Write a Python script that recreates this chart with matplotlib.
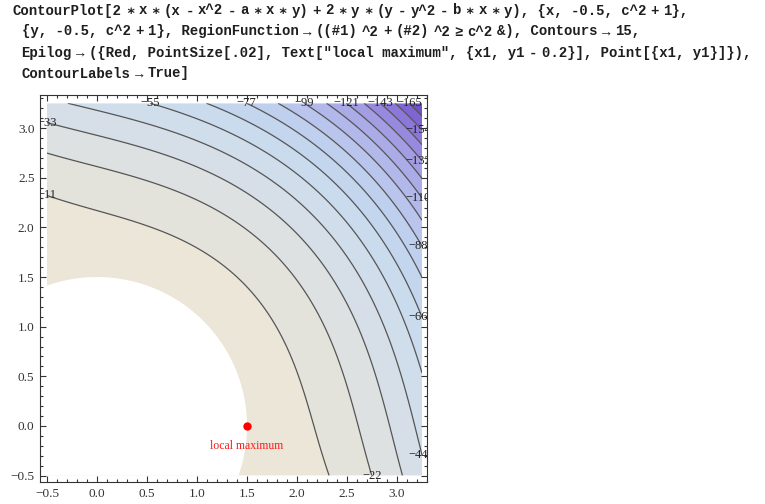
import numpy as np
import matplotlib
matplotlib.use("Agg")
import matplotlib.pyplot as plt
from matplotlib.path import Path
from matplotlib.patches import PathPatch
from matplotlib.colors import LinearSegmentedColormap
from matplotlib.ticker import MultipleLocator

# ---------------- data / parameters ----------------
a_coef = 0.59
b_coef = 0.59
c_param = 1.5
x_min = -0.5
x_max = c_param ** 2 + 1
x1, y1 = 1.5, 0.0
point_text = "local maximum"
point_text_dy = -0.2
contour_levels = [-165, -154, -143, -132, -121, -110, -99, -88, -77, -66, -55, -44, -33, -22, -11]
tick_values = [-0.5, 0.0, 0.5, 1.0, 1.5, 2.0, 2.5, 3.0]
tick_labels = ["\u22120.5", "0.0", "0.5", "1.0", "1.5", "2.0", "2.5", "3.0"]
code_lines = [
    'ContourPlot[2 \u2217 x \u2217 (x - x^2 - a \u2217 x \u2217 y) + 2 \u2217 y \u2217 (y - y^2 - b \u2217 x \u2217 y), {x, -0.5, c^2 + 1},',
    '{y, -0.5, c^2 + 1}, RegionFunction \u2192 ((#1) ^2 + (#2) ^2 \u2265 c^2 &), Contours \u2192 15,',
    'Epilog \u2192 ({Red, PointSize[.02], Text["local maximum", {x1, y1 - 0.2}], Point[{x1, y1}]}),',
    'ContourLabels \u2192 True]',
]
shade_stops = [(0.0, "#6a48c4"), (0.15, "#8a76d8"), (0.3, "#a6a2e6"), (0.5, "#bccbee"),
               (0.65, "#c9dbee"), (0.8, "#d8e0e6"), (0.9, "#e3e3dc"), (1.0, "#eee7d6")]

W, H = 765, 504
fig = plt.figure(figsize=(W / 100, H / 100), dpi=100)
renderer = fig.canvas.get_renderer()

# ---------------- code text ----------------
code_font = dict(family=["Liberation Mono", "DejaVu Sans Mono"], weight="bold",
                 size=10.1, color="#1e1e1e")
thin_px = 4.4
line_x0 = [12.5, 21.5, 21.5, 21.5]
line_base = [14.5, 35.5, 56.5, 77.5]


def split_runs(s):
    runs, cur, inq = [], "", False
    for i, ch in enumerate(s):
        if ch == '"':
            inq = not inq
        if ch == " " and not inq and (i == 0 or s[i - 1] != ","):
            runs.append(cur)
            cur = ""
        else:
            cur += ch
    runs.append(cur)
    return [r for r in runs if r]


for line, x0, yb in zip(code_lines, line_x0, line_base):
    xp = x0
    for run in split_runs(line):
        t = fig.text(xp / W, 1 - yb / H, run, ha="left", va="baseline", **code_font)
        w = t.get_window_extent(renderer).width
        xp += w + thin_px

# ---------------- contour plot ----------------
ax = fig.add_axes([40 / W, 1 - 482 / H, 387 / W, 387 / H])
ax.set_xlim(-0.57, 3.30)
ax.set_ylim(-0.564, 3.333)

n = 700
xs = np.linspace(x_min, x_max, n)
ys = np.linspace(x_min, x_max, n)
X, Y = np.meshgrid(xs, ys)
Z = 2 * X * (X - X ** 2 - a_coef * X * Y) + 2 * Y * (Y - Y ** 2 - b_coef * X * Y)
region = X ** 2 + Y ** 2 >= c_param ** 2
vmin = Z[region].min()
vmax = Z[region].max()

cmap = LinearSegmentedColormap.from_list("mma", shade_stops)
bounds = [Z.min() - 1] + list(contour_levels) + [Z.max() + 1]
band_colors = []
for lo, hi in zip(bounds[:-1], bounds[1:]):
    lo_c = max(lo, vmin)
    hi_c = min(hi, vmax)
    mid = 0.5 * (lo_c + hi_c)
    band_colors.append(cmap(np.clip((mid - vmin) / (vmax - vmin), 0, 1)))

cf = ax.contourf(X, Y, Z, levels=bounds, colors=band_colors, antialiased=True)
cl = ax.contour(X, Y, Z, levels=contour_levels, colors="#555555",
                linewidths=0.9, linestyles="solid")

# clip path: square domain minus disc of radius c
rect = [(x_min, x_min), (x_min, x_max), (x_max, x_max), (x_max, x_min), (x_min, x_min)]
th = np.linspace(0, 2 * np.pi, 400)
circ = list(zip(c_param * np.cos(th), c_param * np.sin(th)))
verts = rect + circ
codes = ([Path.MOVETO] + [Path.LINETO] * 3 + [Path.CLOSEPOLY] +
         [Path.MOVETO] + [Path.LINETO] * (len(circ) - 2) + [Path.CLOSEPOLY])
clip_patch = PathPatch(Path(verts, codes), transform=ax.transData,
                       facecolor="none", edgecolor="none")
ax.add_patch(clip_patch)
cf.set_clip_path(clip_patch)
cl.set_clip_path(clip_patch)

# contour labels at an end of each contour
for i, lev in enumerate(contour_levels):
    k = int(round(-lev / 11))
    ends = []
    for seg in cl.allsegs[i]:
        if len(seg) > 1:
            ends.append(seg[0])
            ends.append(seg[-1])
    if not ends:
        continue
    ends = np.array(ends)
    idx = np.argmax(ends[:, 1]) if k % 2 == 1 else np.argmin(ends[:, 1])
    ex, ey = ends[idx]
    dx = -4 if abs(ex - x_max) < 1e-3 else 0
    ax.annotate("\u2212" + str(abs(lev)), xy=(ex, ey), xytext=(dx, 0),
                textcoords="offset pixels", ha="center", va="center",
                family="Liberation Serif", fontsize=9, color="#222222",
                annotation_clip=False, clip_on=True)

# local maximum
ax.plot([x1], [y1], "o", color="#ff0000", markersize=6, markeredgewidth=0)
ax.text(x1, y1 + point_text_dy, point_text, ha="center", va="center",
        family="Liberation Serif", fontsize=8.5, color="#ff1a1a")

# frame and ticks
for sp in ax.spines.values():
    sp.set_color("#333333")
    sp.set_linewidth(0.8)
ax.set_xticks(tick_values, tick_labels)
ax.set_yticks(tick_values, tick_labels)
ax.xaxis.set_minor_locator(MultipleLocator(0.1))
ax.yaxis.set_minor_locator(MultipleLocator(0.1))
ax.tick_params(which="both", direction="in", top=True, right=True,
               color="#333333", width=0.8, labelcolor="#333333")
ax.tick_params(which="major", length=4.2, pad=4)
ax.tick_params(which="minor", length=2.3)
for lab in ax.get_xticklabels() + ax.get_yticklabels():
    lab.set_family("Liberation Serif")
    lab.set_fontsize(9.5)

fig.savefig("out.png", dpi=100)
